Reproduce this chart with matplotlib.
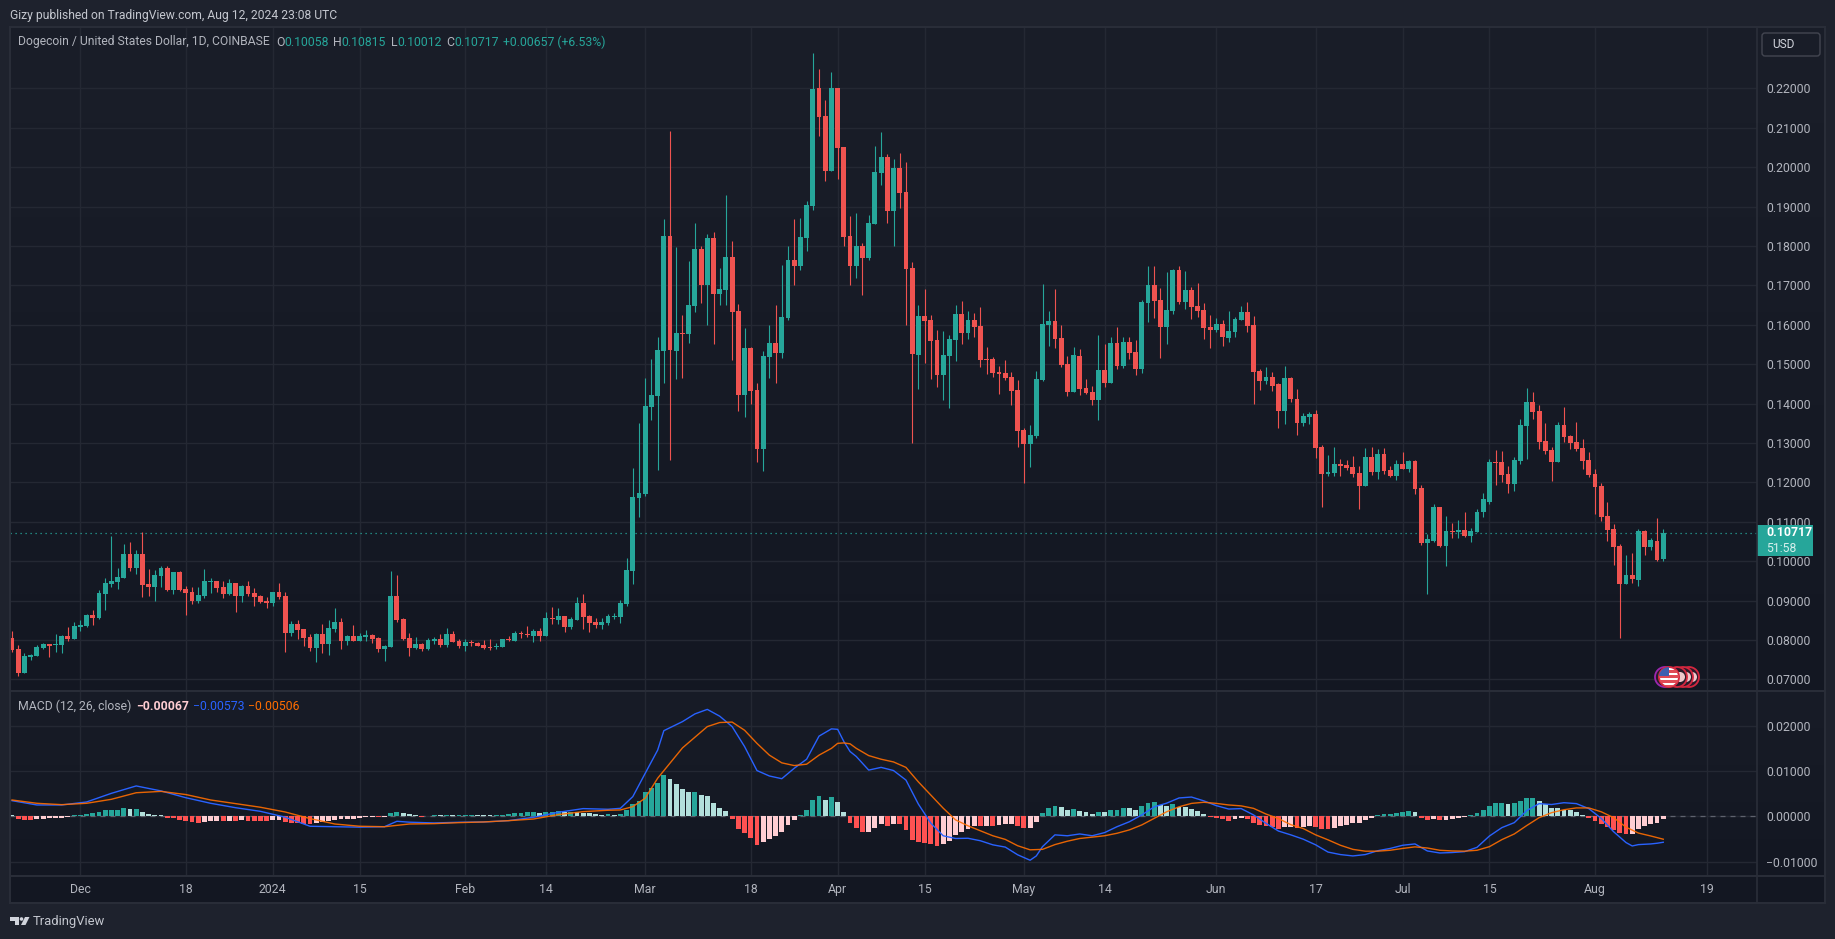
import numpy as np
import pandas as pd
import matplotlib
matplotlib.use('Agg')
import matplotlib.pyplot as plt
import matplotlib.dates as mdates
from matplotlib.colors import LinearSegmentedColormap
from matplotlib.patches import Rectangle, Circle, FancyBboxPatch, Polygon

plt.rcParams['font.family'] = ['Roboto', 'DejaVu Sans']

# DOGE/USD daily, prices in thousandths of a dollar
dates = pd.date_range('2023-11-20', periods=267)

opens = [80.50,77.70,71.59,75.66,75.92,77.95,78.97,78.72,78.72,81.00,
         80.24,83.29,83.55,86.35,85.58,91.69,94.23,94.74,95.76,101.87,
         98.30,101.87,94.23,93.47,96.27,98.30,92.71,97.29,92.96,92.20,
         89.91,91.18,94.74,95.00,93.47,91.69,94.49,91.18,93.72,91.94,
         91.18,89.91,89.40,92.20,91.18,81.77,84.06,82.79,80.75,77.95,
         81.51,78.97,82.79,84.57,79.73,81.00,79.73,80.75,81.26,80.50,
         77.70,78.21,91.18,85.33,80.50,77.95,78.97,77.70,79.73,80.24,
         78.72,81.51,79.73,78.46,79.48,79.22,78.72,78.21,78.21,78.21,
         80.24,79.73,81.77,81.51,81.00,82.28,81.00,85.58,85.08,86.09,
         83.29,85.08,89.40,86.09,84.57,83.80,84.31,85.84,85.84,89.15,
         97.50,116.00,117.04,139.12,141.91,153.34,182.52,153.34,157.90,157.65,
         164.76,179.22,170.09,182.01,167.80,168.82,177.19,163.49,142.17,154.10,
         143.44,128.46,151.81,155.37,152.83,161.71,176.43,174.91,182.01,190.14,
         220.08,212.98,199.02,220.08,205.11,182.52,174.91,179.98,176.94,185.57,
         198.51,202.57,188.87,199.78,193.69,174.40,152.32,162.22,161.20,156.13,
         147.24,152.06,156.13,162.72,157.90,161.20,159.68,151.30,151.30,148.00,
         147.75,146.73,143.44,133.28,129.73,131.76,145.97,159.93,160.95,156.63,
         150.03,142.93,152.06,143.94,142.93,140.90,148.51,145.21,155.36,149.53,
         155.62,153.08,148.77,165.52,170.08,166.28,159.42,163.49,173.89,165.77,
         168.82,164.75,163.74,159.42,158.66,160.19,156.63,158.16,161.20,163.23,
         159.93,148.26,145.72,146.73,144.92,138.05,146.44,141.10,135.00,136.52,
         137.29,128.89,122.02,122.28,124.57,124.31,123.80,122.28,118.97,126.35,
         122.53,127.11,123.04,121.51,124.57,123.29,125.33,118.46,104.72,105.23,
         113.63,103.96,107.78,107.52,108.03,106.50,107.52,112.36,115.15,125.08,
         125.08,122.02,119.48,125.33,134.23,140.34,138.05,130.42,128.13,125.08,
         134.49,131.69,130.16,128.64,125.58,122.02,118.97,111.59,108.28,103.96,
         94.29,96.58,95.31,107.78,103.71,105.23,100.58]

closes = [77.44,71.59,75.92,76.17,78.21,78.97,78.46,78.97,81.00,80.24,
          83.55,83.80,86.35,85.58,91.94,94.49,95.00,96.01,101.87,98.30,
          101.87,93.98,93.47,96.52,98.30,92.71,97.29,92.71,91.94,89.91,
          91.44,95.00,95.00,93.22,91.69,94.49,91.18,93.72,91.69,90.93,
          89.65,89.40,92.20,90.93,81.77,84.06,82.53,80.50,77.95,81.51,
          78.97,83.04,84.57,79.73,81.00,79.73,81.00,81.26,80.24,77.70,
          78.46,91.18,85.08,80.24,77.95,78.97,77.70,79.99,80.24,78.72,
          81.51,79.48,78.46,79.48,79.22,78.46,77.95,77.95,78.46,80.24,
          79.99,81.77,81.51,81.26,82.28,81.00,85.58,85.33,86.09,83.29,
          85.33,89.40,85.84,84.31,83.80,84.57,86.09,86.09,89.40,97.80,
          116.30,117.30,139.38,142.17,153.59,182.52,153.59,157.90,157.65,165.01,
          179.22,170.09,182.01,167.80,169.07,177.19,163.23,142.17,154.10,143.18,
          128.46,152.07,155.37,152.83,161.96,176.43,174.91,182.27,190.39,219.83,
          212.72,199.02,220.08,204.86,182.27,174.91,179.98,176.94,185.82,198.77,
          202.57,188.87,199.78,193.44,174.15,152.57,162.22,160.95,155.87,147.24,
          152.32,156.38,162.72,157.90,161.20,159.42,151.05,151.05,147.75,147.50,
          146.48,143.18,133.03,129.73,132.01,146.23,160.19,160.95,156.38,149.78,
          142.93,152.32,143.69,142.67,140.90,148.51,145.21,155.36,149.53,155.62,
          152.83,148.77,165.77,170.08,166.02,159.42,163.74,173.89,165.77,168.82,
          164.50,163.49,159.17,158.66,160.19,156.89,158.41,161.46,163.23,159.68,
          148.00,145.72,146.73,144.45,138.05,146.44,141.10,135.00,136.78,137.29,
          128.64,122.02,122.53,124.57,124.06,123.55,122.02,118.97,126.35,122.53,
          127.11,122.79,121.51,124.57,123.29,125.33,118.21,104.72,105.74,113.63,
          103.96,107.78,107.52,108.03,106.50,107.78,112.61,115.66,125.08,124.82,
          121.77,119.48,125.58,134.49,140.34,137.80,130.16,127.87,125.08,134.49,
          131.44,129.91,128.38,125.33,121.77,118.72,111.34,108.03,103.71,94.29,
          96.58,95.56,107.78,103.71,105.49,100.40,107.17]

highs = [82.28,78.72,76.68,76.43,78.72,79.22,78.97,81.51,81.26,83.29,
         84.57,85.08,86.60,87.62,92.71,95.76,106.44,98.30,104.41,104.92,
         102.88,107.46,98.05,97.80,98.81,98.81,97.29,97.54,93.72,93.47,
         93.47,98.05,95.76,95.00,95.00,95.51,94.49,93.98,95.00,93.22,
         91.44,90.93,92.20,94.49,92.20,84.82,85.08,82.79,81.51,81.77,
         84.06,85.08,88.13,85.58,81.26,83.80,81.77,82.53,81.51,80.75,
         78.72,97.54,96.52,85.58,81.77,80.75,79.22,80.50,80.75,81.51,
         83.04,82.28,80.24,80.24,79.99,79.48,79.99,80.24,79.22,80.24,
         81.00,82.28,82.28,83.55,82.79,83.04,87.11,88.38,88.13,86.09,
         85.84,90.93,91.69,86.35,85.58,85.58,86.60,86.86,90.16,100.85,
         123.60,135.06,146.48,151.30,156.89,186.84,209.17,179.73,162.47,176.18,
         185.82,179.98,183.03,183.54,174.40,192.93,181.25,165.26,159.17,154.35,
         145.21,153.34,159.93,165.01,175.16,179.98,186.84,187.09,191.41,228.97,
         224.91,217.04,224.15,220.08,205.11,187.60,188.36,180.75,187.85,205.36,
         208.92,203.33,202.06,203.59,201.30,175.92,165.01,169.07,162.47,158.66,
         158.41,157.39,165.01,166.02,163.49,162.98,164.50,154.35,151.81,149.53,
         151.05,148.00,145.97,133.79,134.55,148.26,170.34,163.49,169.07,159.93,
         152.06,154.35,153.84,146.23,144.45,157.39,155.11,156.89,159.42,156.89,
         156.89,156.13,166.28,174.91,174.91,169.32,173.38,174.15,174.91,173.64,
         169.58,170.59,165.52,162.47,161.71,161.20,163.49,161.96,164.75,165.77,
         162.22,148.77,149.27,148.00,145.34,149.60,146.70,143.65,137.54,137.80,
         138.30,129.40,126.86,128.89,125.84,125.58,126.60,124.06,128.64,128.89,
         128.38,128.64,124.06,125.58,127.62,125.58,125.58,119.22,107.01,114.39,
         113.63,111.59,109.81,110.57,112.61,108.54,113.12,117.19,125.84,128.13,
         127.87,124.06,126.35,136.01,143.90,142.88,139.58,135.00,128.89,135.25,
         139.07,131.94,135.25,130.93,127.62,123.29,119.73,114.90,109.56,104.47,
         101.67,102.18,108.28,108.03,106.00,111.08,108.15]

lows = [76.93,70.91,71.59,74.90,75.92,77.70,75.66,76.93,76.68,79.73,
        80.24,82.28,83.29,83.80,85.33,87.62,93.47,92.96,95.76,97.54,
        96.78,90.93,91.18,89.91,93.47,92.45,91.69,92.45,86.35,89.15,
        89.40,90.67,91.94,92.20,90.67,91.44,87.11,89.65,91.18,88.64,
        89.40,88.13,88.64,90.42,76.93,81.00,80.24,78.46,77.19,74.39,
        76.68,76.17,82.02,77.70,78.72,79.73,79.73,79.73,79.22,76.93,
        74.64,78.21,84.57,79.99,75.92,77.70,77.19,77.44,78.97,78.21,
        78.21,79.48,77.95,77.19,78.46,78.46,77.70,77.44,77.70,78.21,
        79.73,79.73,80.50,80.75,79.48,79.73,81.00,84.06,84.06,82.02,
        82.79,85.08,82.79,82.02,83.04,82.79,83.80,85.33,84.31,88.64,
        94.20,111.30,116.60,135.82,123.13,145.21,125.67,146.23,146.48,155.37,
        163.23,165.52,159.93,155.11,165.01,165.01,151.05,138.11,136.58,139.88,
        125.16,122.88,146.48,145.21,151.56,161.20,170.09,173.89,178.72,189.12,
        207.90,196.48,199.02,196.99,179.98,170.09,171.86,167.55,176.43,185.57,
        195.47,185.82,179.98,189.63,159.93,129.99,143.69,150.29,146.23,144.20,
        140.90,138.87,150.80,155.11,156.38,156.89,149.27,147.50,146.73,142.42,
        145.97,139.63,128.97,119.83,123.89,131.25,145.72,154.60,154.10,149.27,
        141.91,142.93,142.17,142.42,139.63,135.82,144.20,145.21,148.77,149.02,
        151.30,147.24,147.75,160.69,161.71,151.56,155.11,162.72,165.26,163.99,
        161.46,161.96,156.38,154.10,158.16,154.60,155.62,156.89,161.20,158.16,
        139.88,143.44,144.96,143.18,133.72,134.74,140.34,131.94,134.23,134.74,
        126.09,113.88,121.51,121.51,121.51,123.04,121.26,113.37,118.97,121.77,
        120.75,122.02,121.26,120.50,123.29,122.53,116.93,104.21,91.75,104.98,
        103.71,98.87,106.00,106.00,106.25,104.98,107.52,111.34,114.64,119.22,
        119.99,117.19,117.70,124.57,125.84,136.01,128.38,127.11,120.24,125.08,
        130.16,128.38,127.87,123.29,121.26,112.10,110.32,105.23,99.13,80.56,
        94.29,94.55,93.78,101.67,102.94,100.14,100.12]

# macd histogram, same unit
hist = [.3,-.66,-.8,-.81,-.6,-.58,-.4,-.39,-.38,-.22,
        .3,.33,.6,.62,1.0,1.45,1.47,1.5,1.9,1.6,
        1.65,1.0,.5,.3,.29,-.35,-.38,-.8,-1.05,-1.25,
        -1.45,-1.25,-1.05,-1.0,-1.02,-1.0,-1.03,-.8,-1.05,-1.06,
        -1.07,-1.08,-.8,-.78,-1.25,-1.4,-1.45,-1.6,-1.7,-1.45,
        -1.3,-1.05,-.8,-.65,-.6,-.58,-.4,-.2,-.15,-.17,
        -.1,.8,1.0,.75,.5,.3,-.12,.12,.25,.2,
        .25,.2,.22,.25,.27,.22,.2,.18,.25,.28,
        .6,.62,.82,.85,.87,.8,1.03,1.05,1.07,1.0,
        1.05,.95,.8,.78,.55,.37,.4,.37,.6,1.3,
        2.65,3.45,5.3,6.3,7.3,9.2,8.15,7.2,6.1,5.45,
        5.46,4.6,4.4,2.85,1.75,1.25,-.6,-2.8,-3.7,-4.8,
        -6.3,-5.65,-5.0,-4.35,-3.45,-1.9,-.8,.35,1.45,3.7,
        4.55,3.7,4.35,3.25,1.0,-1.45,-2.6,-3.45,-3.4,-2.6,
        -1.7,-2.1,-1.7,-1.75,-3.0,-5.2,-5.65,-5.9,-6.1,-6.55,
        -6.1,-5.45,-4.1,-3.45,-2.8,-2.1,-2.15,-2.1,-2.15,-1.9,
        -1.7,-1.68,-2.15,-2.6,-2.55,-1.25,.7,1.85,2.3,2.05,
        1.4,1.6,1.2,.95,.5,.95,.94,1.4,1.42,1.85,
        1.84,1.4,2.3,2.95,3.15,2.5,2.3,2.7,2.05,2.03,
        1.6,1.2,.5,-.15,-.3,-.65,-.95,-.65,-.45,-.5,
        -1.4,-1.85,-2.05,-2.35,-2.8,-2.35,-2.3,-2.6,-2.35,-2.15,
        -2.35,-2.8,-2.82,-2.6,-2.1,-1.9,-1.5,-1.48,-.8,-.4,
        .3,.5,.6,.8,1.0,1.25,1.0,-.3,-.8,-.6,
        -.8,-.78,-.6,-.4,-.15,.3,.8,1.45,2.35,3.0,
        3.02,2.8,3.0,3.45,4.05,4.06,3.4,2.8,1.9,1.88,
        1.5,1.48,1.0,.35,-.4,-1.0,-1.7,-2.35,-3.0,-3.7,
        -3.9,-3.85,-2.8,-2.15,-1.7,-1.45,-.67]

# macd and signal lines, read at these bar numbers
macd_bars = [0,4,8,12,16,20,24,28,32,36,40,44,48,52,56,60,62,64,68,72,76,80,84,88,92,96,98,
             100,102,104,105,108,110,112,114,116,118,120,122,124,126,128,130,132,133,134,135,
             136,138,140,142,144,146,148,150,152,154,156,158,160,162,164,165,166,168,170,172,
             174,176,178,180,182,184,186,188,190,192,194,196,198,200,202,204,206,208,210,212,
             214,216,218,220,222,224,226,228,230,232,234,236,238,240,242,244,246,248,250,252,
             254,256,258,260,261,262,264,265,266]
macd_vals = [3.45,2.5,2.5,3.16,5.07,6.7,5.6,4.1,2.87,1.9,1.1,-.2,-2.2,-2.3,-2.4,-2.3,-1.1,-1.3,-1.47,-1.32,-1.25,-.96,-.22,.88,1.7,1.55,1.76,
             4.34,9.5,14.6,18.9,20.9,22.6,23.6,22.1,19.8,15.4,10.1,8.9,8.3,10.6,12.6,17.7,19.3,19.2,16.5,14.3,
             13.2,10.2,10.8,10.1,8.0,2.7,-1.5,-4.3,-4.9,-4.85,-5.4,-6.3,-6.8,-8.5,-9.7,-8.75,-6.7,-4.1,-4.3,-3.9,
             -4.3,-3.6,-2.3,-1.2,.3,2.1,2.9,4.05,4.25,3.4,2.35,1.6,1.7,.3,-1.55,-3.25,-4.1,-5.05,-6.3,-7.9,
             -8.45,-8.75,-8.45,-7.6,-7.1,-6.4,-6.1,-7.65,-8.1,-8.0,-7.8,-6.85,-4.35,-2.5,-1.4,1.25,2.8,2.6,3.0,2.8,
             1.7,-.45,-3.4,-5.8,-6.55,-6.25,-6.1,-5.95,-5.73]

signal_bars = [0,4,8,12,16,20,24,28,32,36,40,44,48,52,56,60,64,68,72,76,80,84,88,92,96,98,
               100,102,104,108,112,114,116,118,120,122,124,126,128,130,132,133,134,135,
               136,138,140,142,144,146,148,150,152,154,156,158,160,162,164,166,168,170,172,
               174,176,178,180,182,184,186,188,190,192,194,196,198,200,202,204,206,208,210,212,
               214,216,218,220,222,224,226,228,230,232,234,236,238,240,242,244,246,248,250,252,
               254,256,258,260,262,264,266]
signal_vals = [3.6,2.87,2.57,2.87,3.75,5.2,5.5,4.8,3.6,2.8,2.0,.95,-.5,-1.7,-2.2,-2.3,-1.7,-1.62,-1.4,-1.25,-.96,-.6,.37,1.03,1.33,1.4,
               2.13,4.0,8.4,15.1,19.8,20.7,20.8,19.0,16.1,13.5,11.8,11.2,11.5,13.5,15.0,16.1,16.2,16.0,
               15.0,13.4,12.6,12.0,10.8,7.6,4.7,1.8,-.8,-2.1,-3.2,-4.3,-5.1,-6.5,-7.4,-7.3,-6.25,-5.5,-4.9,
               -4.6,-4.3,-3.75,-3.0,-1.9,-.45,1.0,2.1,2.85,3.1,2.85,2.5,2.3,1.75,.5,-.5,-1.85,-2.7,-4.1,-5.2,
               -6.4,-7.3,-7.7,-7.7,-7.5,-7.1,-6.75,-7.0,-7.5,-7.65,-7.7,-7.5,-6.7,-5.15,-3.9,-2.05,-.3,.8,1.45,1.85,
               1.85,1.0,-.3,-2.4,-3.7,-4.35,-5.06]

price_ticks = [.07,.08,.09,.10,.11,.12,.13,.14,.15,.16,.17,.18,.19,.20,.21,.22]
macd_ticks = [-.01,.01,.02]
tick_dates = ['2023-12-01','2023-12-18','2024-01-01','2024-01-15','2024-02-01','2024-02-14',
              '2024-03-01','2024-03-18','2024-04-01','2024-04-15','2024-05-01','2024-05-14',
              '2024-06-01','2024-06-17','2024-07-01','2024-07-15','2024-08-01','2024-08-19']
tick_labels = ['Dec','18','2024','15','Feb','14','Mar','18','Apr','15','May','14',
               'Jun','17','Jul','15','Aug','19']
last_close = 0.10717

UP = '#26a69a'
DOWN = '#ef5350'
GRID = '#242833'
BORDER = '#2a2e39'
LABEL = '#b2b5be'
W, H = 1835, 939

o = np.array(opens) / 1000
c = np.array(closes) / 1000
hi = np.array(highs) / 1000
lo = np.array(lows) / 1000
h = np.array(hist) / 1000
xs = mdates.date2num(dates)
up = c >= o
colors = np.where(up, UP, DOWN)

fig = plt.figure(figsize=(W / 100, H / 100), dpi=100, facecolor='#1e222d')


def px_axes(left, top, right, bottom):
    return fig.add_axes([left / W, 1 - bottom / H, (right - left) / W, (bottom - top) / H])


# background layer and overlay both work in figure pixels
bg = fig.add_axes([0, 0, 1, 1], zorder=-1)
ov = fig.add_axes([0, 0, 1, 1], zorder=10)
ramp = np.linspace(0, 1, 256).reshape(-1, 1)
top_cmap = LinearSegmentedColormap.from_list('pane', ['#1a1e29', '#131722'])
mid_cmap = LinearSegmentedColormap.from_list('pane2', ['#181c27', '#131722'])
bg.imshow(ramp, extent=(10, 1825, 690, 27), aspect='auto', cmap=top_cmap)
bg.imshow(ramp, extent=(10, 1825, 876, 691), aspect='auto', cmap=mid_cmap)
bg.add_patch(Rectangle((10, 876), 1815, 27, color='#131722', lw=0))
for a in (bg, ov):
    a.set_xlim(0, W)
    a.set_ylim(H, 0)
    a.axis('off')
ov.patch.set_alpha(0)

ax = px_axes(10, 27, 1757, 690)
ax2 = px_axes(10, 691, 1757, 876)

# price pane
ax.vlines(xs, lo, hi, colors=colors, lw=0.8, zorder=3)
ax.bar(xs, np.maximum(np.abs(c - o), 0.00025), bottom=np.minimum(o, c), width=0.78,
       color=colors, lw=0, zorder=4)
ax.axhline(last_close, color=UP, lw=0.9, ls=(0, (1, 3)), zorder=2)
ax.set_ylim(0.0673, 0.2356)
ax.set_yticks(price_ticks)
ax.set_yticklabels([f'{t:.5f}' for t in price_ticks])

# macd pane
cur = h
prev = np.r_[h[0] + 1, h[:-1]]
bar_colors = np.where(cur >= 0, np.where(cur > prev, '#26a69a', '#b2dfdb'),
                      np.where(cur > prev, '#ffcdd2', '#ff5252'))
ax2.axhline(0, color='#787b86', lw=0.9, ls=(0, (4, 4)), alpha=0.7, zorder=2)
ax2.bar(xs, h, width=0.78, color=bar_colors, lw=0, zorder=3)
ax2.plot(xs[macd_bars], np.array(macd_vals) / 1000, color='#2962ff', lw=1.0, zorder=4)
ax2.plot(xs[signal_bars], np.array(signal_vals) / 1000, color='#ff6d00', lw=1.0, alpha=0.9, zorder=5)
ax2.set_ylim(-0.01318, 0.02766)
ax2.set_yticks(macd_ticks + [0])
ax2.set_yticklabels(['\u22120.01000', '0.01000', '0.02000', '0.00000'])

# shared x scale and styling
tick_x = mdates.date2num(pd.to_datetime(tick_dates))
dec1 = mdates.date2num(pd.Timestamp('2023-12-01'))
for a in (ax, ax2):
    a.set_facecolor('none')
    a.set_xlim(dec1 - 11.33, dec1 + 270.1)
    a.set_xticks(tick_x)
    a.yaxis.tick_right()
    a.grid(True, color=GRID, lw=1, zorder=0)
    a.set_axisbelow(True)
    a.tick_params(axis='y', length=0, pad=6.5, labelsize=8.8, labelcolor=LABEL)
    a.tick_params(axis='x', length=0)
    for s in a.spines.values():
        s.set_visible(False)
ax.set_xticklabels([])
ax2.set_xticklabels(tick_labels)
ax2.tick_params(axis='x', pad=5, labelsize=8.8, labelcolor=LABEL)

# frame lines
for y in (27, 690.5, 876, 903):
    ov.plot([10, 1825], [y, y], color=BORDER, lw=1.4)
for x in (10, 1825):
    ov.plot([x, x], [27, 903], color=BORDER, lw=1.4)
ov.plot([1757, 1757], [27, 903], color=BORDER, lw=1.2)

# header text
ov.text(10, 15, 'Gizy published on TradingView.com, Aug 12, 2024 23:08 UTC', color='#c4c7cf',
        fontsize=8.7, va='center')
ov.text(18, 42, 'Dogecoin / United States Dollar, 1D, COINBASE', color='#b2b5be', fontsize=8.7, va='center')
for lx, letter, vx, val in [(276, 'O', 284, '0.10058'), (332.6, 'H', 341.5, '0.10815'),
                            (390.6, 'L', 397, '0.10012'), (446, 'C', 454, '0.10717')]:
    ov.text(lx, 42, letter, color='#b2b5be', fontsize=8.8, va='center')
    ov.text(vx, 42, val, color=UP, fontsize=8.8, va='center')
ov.text(503, 42, '+0.00657 (+6.53%)', color=UP, fontsize=8.8, va='center')

# macd legend
ov.text(18, 706, 'MACD (12, 26, close)', color='#b2b5be', fontsize=8.8, va='center')
ov.text(136, 706, '\u22120.00067', color='#ffcdd2', fontsize=8.8, va='center', fontweight='bold')
ov.text(193, 706, '\u22120.00573', color='#2962ff', fontsize=8.8, va='center')
ov.text(248, 706, '\u22120.00506', color='#ff6d00', fontsize=8.8, va='center')

# last price label
ov.add_patch(Rectangle((1757, 525), 56, 31, color=UP, lw=0))
ov.text(1766, 533, '0.10717', color='white', fontsize=8.8, va='center', fontweight='bold')
ov.text(1766, 548, '51:58', color='#d6efec', fontsize=8.8, va='center')

# USD button
ov.add_patch(FancyBboxPatch((1762, 33), 58, 23, boxstyle='round,pad=0,rounding_size=3',
                            fc='none', ec='#434651', lw=1))
ov.text(1772, 45, 'USD', color='#d1d4dc', fontsize=8.6, va='center')

# economic event bubbles
for cx, ec in [(1665, '#9c27b0'), (1689, '#d5273f'), (1683, '#d5273f'), (1677, '#d5273f')]:
    ov.add_patch(Circle((cx, 677), 10, fc='#2a1a2a', ec=ec, lw=1.3))
    ov.add_patch(Circle((cx + 3, 677), 5, fc='#f0c8cc', ec='none'))
flag = Circle((1669, 677), 10, fc='white', ec='#d5273f', lw=1.4, zorder=5)
ov.add_patch(flag)
for y in (670, 675, 680, 685):
    r = ov.add_patch(Rectangle((1658, y), 22, 2.5, color='#e04a55', lw=0, zorder=6))
    r.set_clip_path(flag)
r = ov.add_patch(Rectangle((1658, 667), 11, 9, color='#3c5fb0', lw=0, zorder=7))
r.set_clip_path(flag)

# TradingView logo
ov.add_patch(Polygon([(10, 917), (19, 917), (19, 925), (15, 925), (15, 920.5), (10, 920.5)], color='#d1d4dc', lw=0))
ov.add_patch(Circle((21.5, 919), 1.8, color='#d1d4dc', lw=0))
ov.add_patch(Polygon([(25, 917), (29.5, 917), (25.5, 925), (21, 925)], color='#d1d4dc', lw=0))
ov.text(33, 922, 'TradingView', color='#c4c7cf', fontsize=9.4, va='center')

fig.savefig('out.png', dpi=100, facecolor=fig.get_facecolor())
